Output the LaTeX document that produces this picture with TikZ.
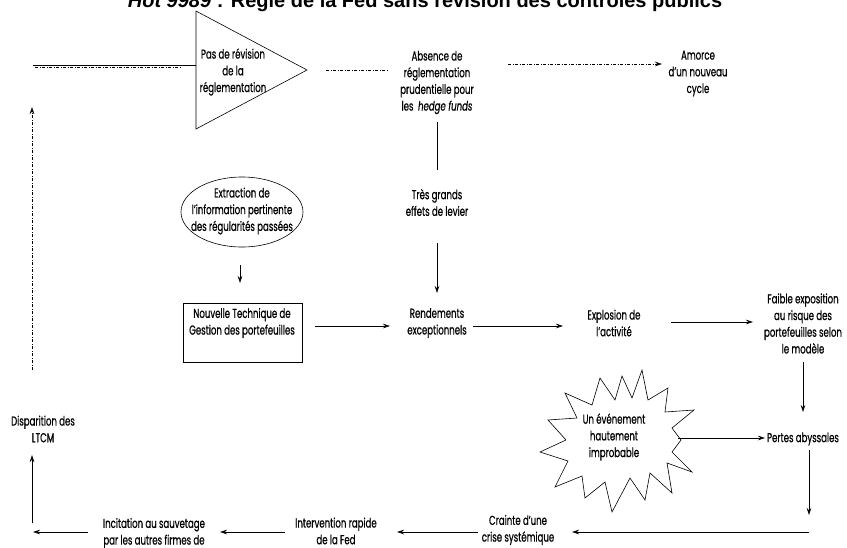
\documentclass[tikz,border=0pt]{standalone}
\usepackage{fontspec}
\setmainfont{Poppins}[FakeStretch=0.66,FakeBold=0.6]
\newfontfamily\titlefont{Liberation Sans}
\usetikzlibrary{arrows.meta,shapes.geometric}
\tikzset{
  txt/.style={align=center, inner sep=0pt, font=\fontsize{13}{16.7}\selectfont},
  conn/.style={line width=0.6pt},
  arr/.style={line width=0.6pt, -{Stealth[length=7pt,width=4.5pt]}},
  dd/.style={line width=0.6pt, dash pattern=on 3pt off 1.5pt on 1pt off 1.5pt},
  ddarr/.style={dd, -{Stealth[length=7pt,width=4.5pt]}},
}
\begin{document}
\begin{tikzpicture}[x=1pt,y=-1pt]
\useasboundingbox (0,0) rectangle (847,547);
\clip (0,0) rectangle (847,547);
\fill[white] (0,0) rectangle (847,547);

% title (partly cut at the top, as in the reference)
\node[anchor=base, inner sep=0pt, font=\titlefont\bfseries\fontsize{20}{24}\selectfont] (title) at (425,7)
  {{\itshape Hot 9989} : Règle de la Fed sans révision des contrôles publics};

% triangle
\coordinate (tA) at (196,11);
\coordinate (tB) at (196,129);
\coordinate (tC) at (307,70);
\draw[conn] (tA) -- (tB) -- (tC) -- cycle;
\node[txt] (tri) at (233,72) {Pas de révision\\de la\\réglementation};

% left feedback lines
\coordinate (l1) at (33,65);
\coordinate (l1e) at (196,65);
\coordinate (l2) at (35,67.5);
\coordinate (l2e) at (181,67.5);
\draw[conn] (l1) -- (l1e);
\draw[dd] (l2) -- (l2e);

% top row nodes
\node[txt] (abs) at (437,82.5) {Absence de\\réglementation\\prudentielle pour\\les \ {\itshape hedge funds}};
\node[txt] (amo) at (698,73.5) {Amorce\\d’un nouveau\\cycle};
\coordinate (d1) at (326,70);
\coordinate (d1e) at (388,70);
\draw[dd] (d1) -- (d1e);
\coordinate (d2) at (508,64);
\coordinate (d2e) at (662,64);
\draw[ddarr] (d2) -- (d2e);

% leverage
\node[txt] (lev) at (437,202.5) {Très grands\\effets de levier};
\coordinate (v1) at (437,122);
\coordinate (v1e) at (437,170);
\draw[conn] (v1) -- (v1e);
\coordinate (v2) at (437,243);
\coordinate (v2e) at (437,293);
\draw[arr] (v2) -- (v2e);

% ellipse and box
\node[ellipse, draw, line width=0.6pt, minimum width=122pt, minimum height=70pt, inner sep=0pt] (ell) at (242,212) {};
\node[txt] (ext) at (242,211) {Extraction de\\l’information pertinente\\des régularités passées};
\coordinate (e1) at (240,265);
\coordinate (e1e) at (240,283);
\draw[arr] (e1) -- (e1e);
\node[draw, line width=0.6pt, minimum width=119pt, minimum height=59pt, inner sep=0pt] (ntbox) at (242.5,332.5) {};
\node[txt] (nt) at (242,323) {Nouvelle Technique de\\Gestion des portefeuilles};

% middle row
\node[txt] (ren) at (437,323) {Rendements\\exceptionnels};
\node[txt] (exp) at (614,323) {Explosion de\\l’activité};
\node[txt] (fai) at (803,323.5) {Faible exposition\\au risque des\\portefeuilles selon\\le modèle};
\coordinate (h1) at (315,326);
\coordinate (h1e) at (390,326);
\draw[arr] (h1) -- (h1e);
\coordinate (h2) at (473,326);
\coordinate (h2e) at (563,326);
\draw[arr] (h2) -- (h2e);
\coordinate (h3) at (671,322);
\coordinate (h3e) at (753,322);
\draw[arr] (h3) -- (h3e);

% right column
\node[txt] (per) at (803,439) {Pertes abyssales};
\coordinate (r1) at (803,362);
\coordinate (r1e) at (803,412);
\draw[arr] (r1) -- (r1e);
\coordinate (r2) at (809,450);
\coordinate (r2e) at (809,515);
\draw[arr] (r2) -- (r2e);

% starburst
\draw[conn, line join=miter] (642,370) -- (648,400) -- (668,388) -- (665,412) -- (694,410) -- (672,428)
  -- (681,440) -- (672,452) -- (692,472) -- (667,463) -- (672,493) -- (650,473) -- (645,500)
  -- (630,478) -- (612,512) -- (605,482) -- (585,498) -- (582,476) -- (555,487) -- (568,461)
  -- (540,452) -- (566,440) -- (548,420) -- (577,418) -- (565,393) -- (592,405) -- (600,378)
  -- (615,400) -- (622,376) -- (632,398) -- cycle;
\node[txt] (evt) at (614,437) {Un événement\\hautement\\improbable};
\coordinate (s1) at (678,438);
\coordinate (s1e) at (765,438);
\draw[arr] (s1) -- (s1e);

% bottom row
\node[txt] (cra) at (518,530) {Crainte d’une\\crise systémique};
\node[txt] (int) at (336,531) {Intervention rapide\\de la Fed};
\node[txt] (inc) at (154,533) {Incitation au sauvetage\\par les autres firmes de};
\node[txt] (dis) at (43,429) {Disparition des\\LTCM};
\coordinate (b1) at (809,532);
\coordinate (b1e) at (572,532);
\draw[arr] (b1) -- (b1e);
\coordinate (b2) at (478,532);
\coordinate (b2e) at (397,532);
\draw[arr] (b2) -- (b2e);
\coordinate (b3) at (285,532);
\coordinate (b3e) at (220,532);
\draw[arr] (b3) -- (b3e);
\coordinate (b4) at (88,532);
\coordinate (b4e) at (33,532);
\draw[arr] (b4) -- (b4e);
\coordinate (u1) at (32,523);
\coordinate (u1e) at (32,455);
\draw[arr] (u1) -- (u1e);
\coordinate (u2) at (32,370);
\coordinate (u2e) at (32,107);
\draw[ddarr] (u2) -- (u2e);
\end{tikzpicture}
\end{document}
